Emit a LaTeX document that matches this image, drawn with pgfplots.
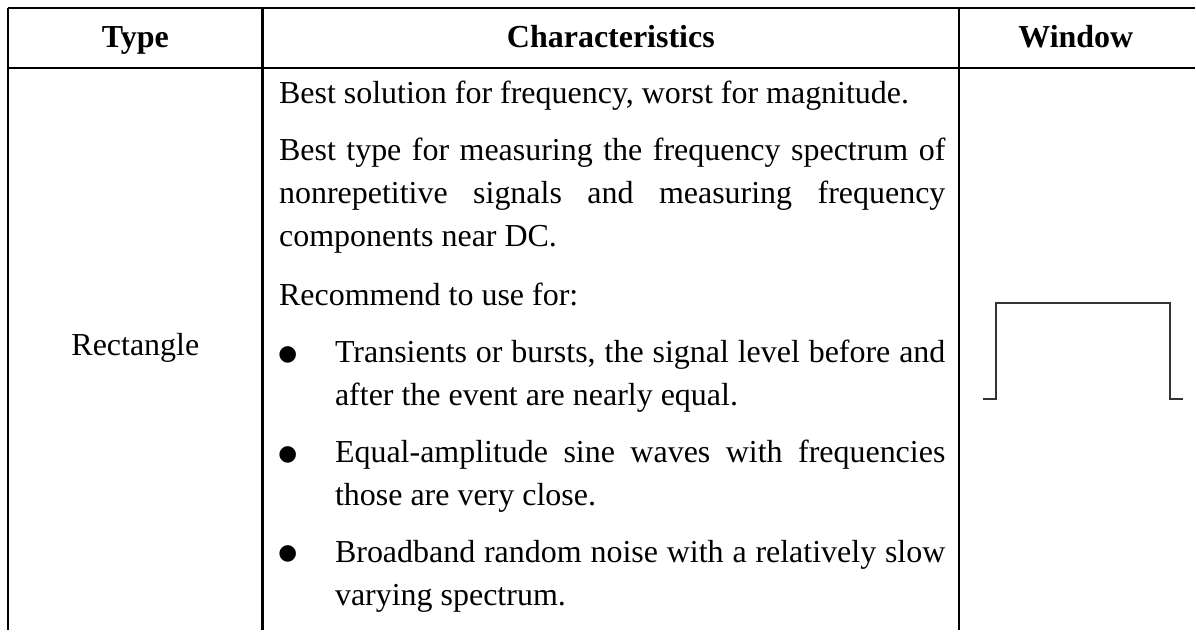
\documentclass[border=0pt]{standalone}
\usepackage{pgfplots}
\pgfplotsset{compat=1.18}
\usepackage{fontspec}
\setmainfont{Liberation Serif}
\newfontfamily\symfont{DejaVu Sans}
\begin{document}
\begin{tikzpicture}[
  txt/.style={anchor=base west, inner sep=0, font=\fontsize{16}{19}\selectfont},
  ctr/.style={anchor=base, inner sep=0, font=\fontsize{16}{19}\selectfont},
  bul/.style={anchor=center, inner sep=0, font=\symfont\fontsize{10.8}{13}\selectfont},
]
\begin{axis}[
  width=598pt, height=315.5pt, scale only axis,
  xmin=0, xmax=1196, ymin=0, ymax=631, y dir=reverse,
  hide axis, clip=false,
]
\path (axis cs:0,0) rectangle (axis cs:1196,631);
% table rules
\draw[line width=1.3pt] (axis cs:8,8) -- (axis cs:1196,8);
\draw[line width=1.3pt] (axis cs:8,68) -- (axis cs:1196,68);
\draw[line width=1.3pt] (axis cs:8,8) -- (axis cs:8,631);
\draw[line width=1.3pt] (axis cs:263,8) -- (axis cs:263,631);
\draw[line width=1.3pt] (axis cs:960,8) -- (axis cs:960,631);
% rectangle window
\addplot[black!80, line width=1pt, line join=miter] coordinates {
  (984,399) (997,399) (997,303) (1171,303) (1171,399) (1184,399)
};
\node[ctr] at (axis cs:135.5,48) {\textbf{Type}};
\node[ctr] at (axis cs:611.5,48) {\textbf{Characteristics}};
\node[ctr] at (axis cs:1077,48) {\textbf{Window}};
\node[ctr] at (axis cs:135.5,356) {Rectangle};
\node[txt] at (axis cs:279,104) {Best solution for frequency, worst for magnitude.};
\node[txt] at (axis cs:279,161) {\makebox[333.5pt][s]{Best type for measuring the frequency spectrum of}};
\node[txt] at (axis cs:279,204) {\makebox[333.5pt][s]{nonrepetitive signals and measuring frequency}};
\node[txt] at (axis cs:279,247) {components near DC.};
\node[txt] at (axis cs:279,306) {Recommend to use for:};
\node[txt] at (axis cs:335,363) {\makebox[305.5pt][s]{Transients or bursts, the signal level before and}};
\node[txt] at (axis cs:335,406) {after the event are nearly equal.};
\node[txt] at (axis cs:335,463) {\makebox[305.5pt][s]{Equal-amplitude sine waves with frequencies}};
\node[txt] at (axis cs:335,506) {those are very close.};
\node[txt] at (axis cs:335,563) {\makebox[305.5pt][s]{Broadband random noise with a relatively slow}};
\node[txt] at (axis cs:335,606) {varying spectrum.};
\node[bul] at (axis cs:288,355) {●};
\node[bul] at (axis cs:288,455) {●};
\node[bul] at (axis cs:288,555) {●};
\end{axis}
\end{tikzpicture}
\end{document}
